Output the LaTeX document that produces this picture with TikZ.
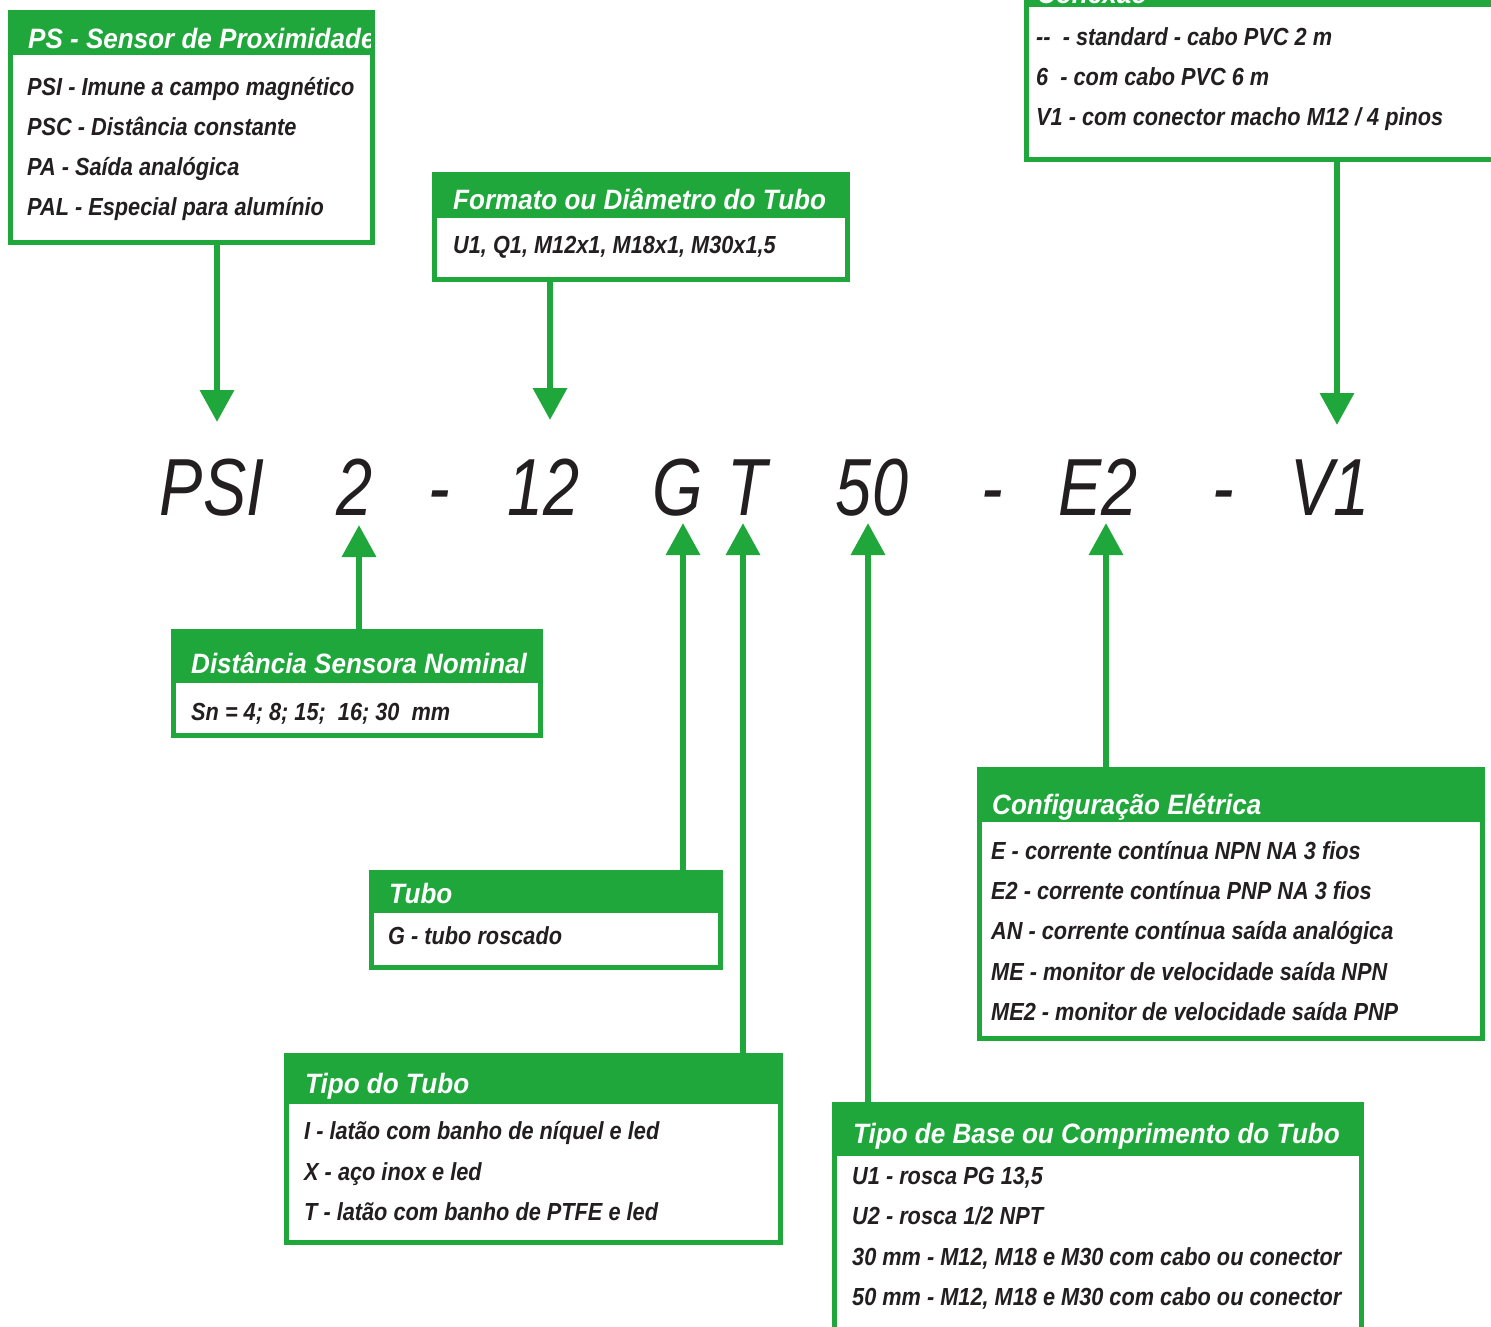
\documentclass[tikz,border=0pt]{standalone}
\usepackage{fontspec}
\usetikzlibrary{arrows.meta}
\newfontfamily\titlef[FakeStretch=0.93]{Liberation Sans}
\newfontfamily\bodyf[FakeStretch=0.88]{Liberation Sans}
\newfontfamily\bigf[FakeStretch=0.80]{Liberation Sans}
\definecolor{gr}{RGB}{31,167,59}
\definecolor{ink}{RGB}{35,31,32}
\tikzset{
 gboxst/.style={fill=gr, inner sep=0pt, outer sep=0pt, anchor=north west},
 ttl/.style={anchor=base west, inner sep=0pt, text=white, font=\titlef\bfseries\itshape\fontsize{28}{30}\selectfont},
 bdy/.style={anchor=base west, inner sep=0pt, text=ink, font=\bodyf\bfseries\itshape\fontsize{24.7}{28}\selectfont},
 big/.style={anchor=base, inner sep=0pt, text=ink, font=\bigf\itshape\fontsize{81}{90}\selectfont},
 arr/.style={draw=gr, line width=6.5pt, -{Triangle[width=33pt,length=32pt]}},
}
\newcommand{\mkgbox}[6]{%
 \node[gboxst, minimum width={#4pt-#2pt}, minimum height={#5pt-#3pt}] (#1) at (#2,#3) {};
 \fill[white] (#2+5,#6) rectangle (#4-5,#5-5);
}
\begin{document}
\begin{tikzpicture}[x=1pt,y=-1pt]
\useasboundingbox (0,0) rectangle (1491,1326);
\clip (0,0) rectangle (1491,1326);
\fill[white] (0,0) rectangle (1491,1326);

% ---------- boxes ----------
\mkgbox{ps}{8}{10}{375}{245}{55}
\begin{scope}
 \clip (13,10) rectangle (370,55);
 \node[ttl] (psT) at (28,48) {PS - Sensor de Proximidade};
\end{scope}
\node[bdy] (ps1) at (27,95) {PSI - Imune a campo magnético};
\node[bdy] (ps2) at (27,135) {PSC - Distância constante};
\node[bdy] (ps3) at (27,175) {PA - Saída analógica};
\node[bdy] (ps4) at (27,215) {PAL - Especial para alumínio};

\mkgbox{fmt}{432}{172}{850}{282}{218}
\node[ttl] (fmtT) at (453,209) {Formato ou Diâmetro do Tubo};
\node[bdy] (fmt1) at (453,253) {U1, Q1, M12x1, M18x1, M30x1,5};

\mkgbox{con}{1024}{-60}{1530}{162}{7}
\node[ttl] (conT) at (1037,3) {Conexão};
\node[bdy] (con1) at (1036,45) {-{}-\ \ - standard - cabo PVC 2 m};
\node[bdy] (con2) at (1036,85) {6\ \ - com cabo PVC 6 m};
\node[bdy] (con3) at (1036,125) {V1 - com conector macho M12 / 4 pinos};

\mkgbox{dist}{171}{629}{543}{738}{683}
\node[ttl] (distT) at (191,673) {Distância Sensora Nominal};
\node[bdy] (dist1) at (191,720) {Sn = 4; 8; 15;\ \ 16; 30\ \ mm};

\mkgbox{tubo}{369}{870}{723}{970}{913}
\node[ttl] (tuboT) at (389,903) {Tubo};
\node[bdy] (tubo1) at (388,944) {G - tubo roscado};

\mkgbox{tipo}{284}{1053}{783}{1245}{1104}
\node[ttl] (tipoT) at (305,1093) {Tipo do Tubo};
\node[bdy] (tipo1) at (304,1139) {I - latão com banho de níquel e led};
\node[bdy] (tipo2) at (304,1180) {X - aço inox e led};
\node[bdy] (tipo3) at (304,1220) {T - latão com banho de PTFE e led};

\mkgbox{cfg}{977}{767}{1485}{1041}{822}
\node[ttl] (cfgT) at (992,814) {Configuração Elétrica};
\node[bdy] (cfg1) at (991,859) {E - corrente contínua NPN NA 3 fios};
\node[bdy] (cfg2) at (991,899) {E2 - corrente contínua PNP NA 3 fios};
\node[bdy] (cfg3) at (991,939) {AN - corrente contínua saída analógica};
\node[bdy] (cfg4) at (991,980) {ME - monitor de velocidade saída NPN};
\node[bdy] (cfg5) at (991,1020) {ME2 - monitor de velocidade saída PNP};

\mkgbox{base}{832}{1102}{1364}{1360}{1156}
\node[ttl] (baseT) at (853,1143) {Tipo de Base ou Comprimento do Tubo};
\node[bdy] (base1) at (852,1184) {U1 - rosca PG 13,5};
\node[bdy] (base2) at (852,1224) {U2 - rosca 1/2 NPT};
\node[bdy] (base3) at (852,1265) {30 mm - M12, M18 e M30 com cabo ou conector};
\node[bdy] (base4) at (852,1305) {50 mm - M12, M18 e M30 com cabo ou conector};

% ---------- code ----------
\node[big] (psi)    at (212,515)  {PSI};
\node[big] (two)    at (355,515)  {2};
\node[big] (dA)     at (439,515)  {-};
\node[big] (twelve) at (544,515)  {12};
\node[big] (g)      at (678,515)  {G};
\node[big] (t)      at (747,515)  {T};
\node[big] (fifty)  at (872,515)  {50};
\node[big] (dB)     at (992,515)  {-};
\node[big] (etwo)   at (1098,515) {E2};
\node[big] (dC)     at (1223,515) {-};
\node[big] (vone)   at (1330,515) {V1};

% ---------- arrow tips ----------
\coordinate (cPSI) at (217,422);
\coordinate (cTw)  at (550,420);
\coordinate (cV1)  at (1337,425);
\coordinate (cTwo) at (359,525);
\coordinate (cG)   at (683,523);
\coordinate (cT)   at (743,523);
\coordinate (cFi)  at (868,523);
\coordinate (cE2)  at (1106,523);

\draw[arr] (ps.south -| cPSI) -- (cPSI);
\draw[arr] (fmt.south -| cTw) -- (cTw);
\draw[arr] (con.south -| cV1) -- (cV1);
\draw[arr] (dist.north -| cTwo) -- (cTwo);
\draw[arr] (tubo.north -| cG) -- (cG);
\draw[arr] (tipo.north -| cT) -- (cT);
\draw[arr] (base.north -| cFi) -- (cFi);
\draw[arr] (cfg.north -| cE2) -- (cE2);
\end{tikzpicture}
\end{document}
